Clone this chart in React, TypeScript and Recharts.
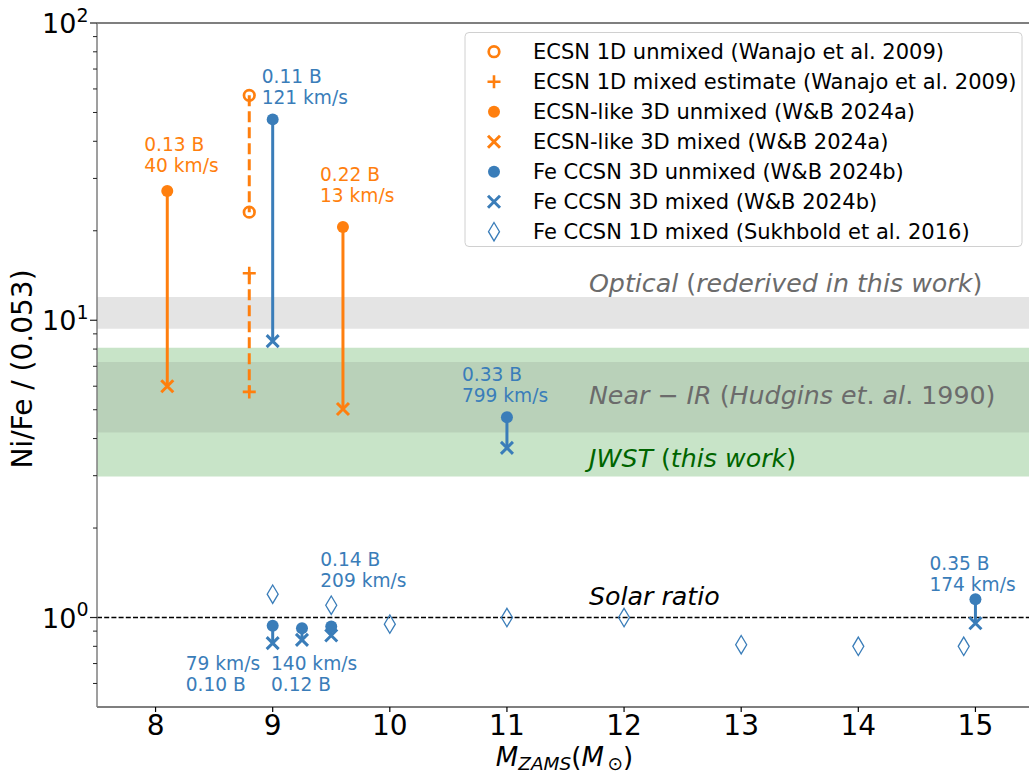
import React from 'react';
import { ComposedChart, XAxis, YAxis, Scatter, ReferenceArea, ReferenceLine } from 'recharts';

const ORANGE = '#ff7f0e';
const BLUE = '#3a7db9';
const FONT = '"DejaVu Sans", sans-serif';

// axis ticks
const massTicks = [8, 9, 10, 11, 12, 13, 14, 15];
const majorRatioTicks = [1, 10, 100];
const minorRatioTicks = [0.6, 0.7, 0.8, 0.9, 2, 3, 4, 5, 6, 7, 8, 9, 20, 30, 40, 50, 60, 70, 80, 90];

// ECSN 1D (Wanajo et al. 2009)
const ecsn1dUnmixed = [{ x: 8.8, y: 57.1 }, { x: 8.8, y: 23.1 }];
const ecsn1dMixed = [{ x: 8.8, y: 14.4 }, { x: 8.8, y: 5.74 }];
// ECSN-like 3D (W&B 2024a)
const ecsn3dUnmixed = [{ x: 8.1, y: 27.2 }, { x: 9.6, y: 20.6 }];
const ecsn3dMixed = [{ x: 8.1, y: 6.0 }, { x: 9.6, y: 5.03 }];
// Fe CCSN 3D (W&B 2024b)
const fe3dUnmixed = [
  { x: 9, y: 47.4 }, { x: 11, y: 4.72 }, { x: 9, y: 0.938 },
  { x: 9.25, y: 0.921 }, { x: 9.5, y: 0.933 }, { x: 15, y: 1.153 },
];
const fe3dMixed = [
  { x: 9, y: 8.51 }, { x: 11, y: 3.72 }, { x: 9, y: 0.82 },
  { x: 9.25, y: 0.841 }, { x: 9.5, y: 0.87 }, { x: 15, y: 0.957 },
];
// Fe CCSN 1D mixed (Sukhbold et al. 2016)
const fe1dMixed = [
  { x: 9, y: 1.198 }, { x: 9.5, y: 1.1 }, { x: 10, y: 0.95 }, { x: 11, y: 1.0 },
  { x: 12, y: 1.0 }, { x: 13, y: 0.81 }, { x: 14, y: 0.8 }, { x: 14.9, y: 0.8 },
];

// observational bands
const opticalBand = [9.36, 11.97];
const jwstBand = [2.98, 8.08];
const nearIrBand = [4.19, 7.24];
const solarRatio = 1;

// annotations (anchored to model points)
const annotations = [
  { x: 8.1, y: 27.2, dx: -23, dy: -40, lines: ['0.13 B', '40 km/s'], color: ORANGE },
  { x: 9, y: 47.4, dx: -11, dy: -36, lines: ['0.11 B', '121 km/s'], color: BLUE },
  { x: 9.6, y: 20.6, dx: -23, dy: -46, lines: ['0.22 B', '13 km/s'], color: ORANGE },
  { x: 11, y: 4.72, dx: -45, dy: -36, lines: ['0.33 B', '799 km/s'], color: BLUE },
  { x: 9.5, y: 0.933, dx: -11, dy: -60, lines: ['0.14 B', '209 km/s'], color: BLUE },
  { x: 9, y: 0.82, dx: -87, dy: 27, lines: ['79 km/s', '0.10 B'], color: BLUE },
  { x: 9.25, y: 0.841, dx: -31, dy: 30, lines: ['140 km/s', '0.12 B'], color: BLUE },
  { x: 15, y: 1.153, dx: -46, dy: -29, lines: ['0.35 B', '174 km/s'], color: BLUE },
];

// band labels (mathtext-like parts: [text, italic])
const bandLabels = [
  { x: 11.7, y: 12.47, color: '#6b6b6b', parts: [['Optical', true], [' (', false], ['rederived in this work', true], [')', false]] },
  { x: 11.7, y: 5.23, color: '#6b6b6b', parts: [['Near', true], [' \u2212 ', false], ['IR', true], [' (', false], ['Hudgins et', true], ['. ', false], ['al', true], ['. 1990)', false]] },
  { x: 11.7, y: 3.22, color: '#006400', parts: [['JWST', true], [' (', false], ['this work', true], [')', false]] },
  { x: 11.7, y: 1.1, color: '#000000', parts: [['Solar ratio', true]] },
];

const legendLabels = [
  'ECSN 1D unmixed (Wanajo et al. 2009)',
  'ECSN 1D mixed estimate (Wanajo et al. 2009)',
  'ECSN-like 3D unmixed (W&B 2024a)',
  'ECSN-like 3D mixed (W&B 2024a)',
  'Fe CCSN 3D unmixed (W&B 2024b)',
  'Fe CCSN 3D mixed (W&B 2024b)',
  'Fe CCSN 1D mixed (Sukhbold et al. 2016)',
];
const legendKinds = ['open', 'plus', 'dot', 'x', 'dot', 'x', 'diamond'];
const legendColors = [ORANGE, ORANGE, ORANGE, ORANGE, BLUE, BLUE, BLUE];

function marker(kind: string, cx: number, cy: number, color: string) {
  switch (kind) {
    case 'open':
      return <circle cx={cx} cy={cy} r={5.3} fill="none" stroke={color} strokeWidth={2.7} />;
    case 'plus':
      return <path d={`M${cx - 6.5},${cy}H${cx + 6.5}M${cx},${cy - 6.5}V${cy + 6.5}`} stroke={color} strokeWidth={2.6} fill="none" />;
    case 'dot':
      return <circle cx={cx} cy={cy} r={6} fill={color} />;
    case 'x':
      return <path d={`M${cx - 6},${cy - 6}L${cx + 6},${cy + 6}M${cx - 6},${cy + 6}L${cx + 6},${cy - 6}`} stroke={color} strokeWidth={3} fill="none" />;
    case 'diamond':
      return <path d={`M${cx},${cy - 9.2}L${cx + 5.5},${cy}L${cx},${cy + 9.2}L${cx - 5.5},${cy}Z`} stroke={color} strokeWidth={1.3} fill="none" />;
    default:
      return null;
  }
}

const shapeOf = (kind: string, color: string) => (p: any) => <g>{marker(kind, p.cx, p.cy, color)}</g>;

const annotationShape = (p: any) => {
  const a = p.payload;
  return (
    <text x={p.cx + a.dx} y={p.cy + a.dy} fill={a.color} fontSize={18.6} fontFamily={FONT}>
      {a.lines.map((l: string, i: number) => (
        <tspan key={i} x={p.cx + a.dx} dy={i === 0 ? 0 : 21}>{l}</tspan>
      ))}
    </text>
  );
};

const bandLabelShape = (p: any) => {
  const b = p.payload;
  return (
    <text x={p.cx} y={p.cy} fill={b.color} fontSize={25.3} fontFamily={FONT}>
      {b.parts.map((part: any, i: number) => (
        <tspan key={i} fontStyle={part[1] ? 'italic' : 'normal'} style={{ whiteSpace: 'pre' }}>{part[0]}</tspan>
      ))}
    </text>
  );
};

const YTick = (p: any) => {
  const v = p.payload.value;
  const major = majorRatioTicks.some((m) => Math.abs(m - v) < 1e-9);
  const x = p.x;
  const y = p.y;
  return (
    <g>
      <line x1={x} x2={x - (major ? 7 : 4)} y1={y} y2={y} stroke="#222" strokeWidth={major ? 1.2 : 1} />
      {major && (
        <text x={x - 8.5} y={y + 10} textAnchor="end" fontSize={27} fontFamily={FONT} fill="#000">
          <tspan>10</tspan>
          <tspan dy={-11.5} fontSize={19}>{String(Math.round(Math.log10(v)))}</tspan>
        </text>
      )}
    </g>
  );
};

const XTick = (p: any) => (
  <g>
    <line x1={p.x} x2={p.x} y1={p.y} y2={p.y + 5} stroke="#000" strokeWidth={1.2} />
    <text x={p.x} y={p.y + 28} textAnchor="middle" fontSize={28} fontFamily={FONT} fill="#000">
      {p.payload.value}
    </text>
  </g>
);

const XLabel = (p: any) => {
  const vb = p.viewBox || { x: 97, width: 937, y: 707 };
  const cx = vb.x + vb.width / 2 - 1;
  return (
    <text x={cx} y={765.5} textAnchor="middle" fontSize={26} fontFamily={FONT} fill="#000">
      <tspan fontStyle="italic">M</tspan>
      <tspan fontStyle="italic" fontSize={18.5} dy={4.5}>ZAMS</tspan>
      <tspan dy={-4.5}>(</tspan>
      <tspan fontStyle="italic">M</tspan>
      <tspan fontSize={18.5} dy={4.5}>{'\u2009\u2299'}</tspan>
      <tspan dy={-4.5}>)</tspan>
    </text>
  );
};

const YLabel = () => (
  <text x={32} y={369} transform="rotate(-90 32 369)" textAnchor="middle" fontSize={28} fontFamily={FONT} fill="#000">
    Ni/Fe / (0.053)
  </text>
);

const segPairs = (a: { x: number; y: number }[], b: { x: number; y: number }[]) => a.map((p, i) => [p, b[i]]);

export default function App() {
  const legendTop = 32.5;
  const legendLeft = 465;
  return (
    <div style={{ position: 'relative', width: 1029, height: 775, overflow: 'hidden', background: '#fff' }}>
      <style>{'html,body{margin:0;padding:0;overflow:hidden;}'}</style>
      <ComposedChart width={1040} height={775} margin={{ top: 23, right: 6, bottom: 0, left: 0 }}>
        <ReferenceArea y1={opticalBand[0]} y2={opticalBand[1]} fill="#e4e4e4" fillOpacity={1} stroke="none" />
        <ReferenceArea y1={jwstBand[0]} y2={jwstBand[1]} fill="#c8e4c8" fillOpacity={1} stroke="none" />
        <ReferenceArea y1={nearIrBand[0]} y2={nearIrBand[1]} fill="#b9d1b9" fillOpacity={1} stroke="none" />
        <XAxis
          dataKey="x"
          type="number"
          domain={[7.5, 15.5]}
          ticks={massTicks}
          interval={0}
          allowDataOverflow
          height={68}
          tickSize={0}
          tickMargin={0}
          tickLine={false}
          tick={(p: any) => <XTick {...p} />}
          axisLine={{ stroke: '#000', strokeWidth: 1.2 }}
          label={<XLabel />}
        />
        <YAxis
          dataKey="y"
          type="number"
          scale="log"
          domain={[0.5, 100]}
          ticks={[...minorRatioTicks, ...majorRatioTicks].sort((a, b) => a - b)}
          interval={0}
          allowDataOverflow
          width={97}
          tickSize={0}
          tickMargin={0}
          tickLine={false}
          tick={(p: any) => <YTick {...p} />}
          axisLine={{ stroke: '#7f7f7f', strokeWidth: 1.5 }}
          label={<YLabel />}
        />
        <ReferenceLine y={100} stroke="#000" strokeWidth={1.2} ifOverflow="visible" />
        <ReferenceLine x={15.5} stroke="#000" strokeWidth={1.2} ifOverflow="visible" />
        <ReferenceLine y={solarRatio} stroke="#000" strokeWidth={1.3} strokeDasharray="5 2.2" />
        <ReferenceLine segment={ecsn1dUnmixed} stroke={ORANGE} strokeWidth={3} strokeDasharray="11 5" ifOverflow="visible" />
        <ReferenceLine segment={ecsn1dMixed} stroke={ORANGE} strokeWidth={3} strokeDasharray="11 5" ifOverflow="visible" />
        {segPairs(ecsn3dUnmixed, ecsn3dMixed).map((s, i) => (
          <ReferenceLine key={'o' + i} segment={s} stroke={ORANGE} strokeWidth={3} ifOverflow="visible" />
        ))}
        {segPairs(fe3dUnmixed, fe3dMixed).map((s, i) => (
          <ReferenceLine key={'b' + i} segment={s} stroke={BLUE} strokeWidth={3} ifOverflow="visible" />
        ))}
        <Scatter data={ecsn1dUnmixed} isAnimationActive={false} shape={shapeOf('open', ORANGE)} />
        <Scatter data={ecsn1dMixed} isAnimationActive={false} shape={shapeOf('plus', ORANGE)} />
        <Scatter data={ecsn3dUnmixed} isAnimationActive={false} shape={shapeOf('dot', ORANGE)} />
        <Scatter data={ecsn3dMixed} isAnimationActive={false} shape={shapeOf('x', ORANGE)} />
        <Scatter data={fe3dUnmixed} isAnimationActive={false} shape={shapeOf('dot', BLUE)} />
        <Scatter data={fe3dMixed} isAnimationActive={false} shape={shapeOf('x', BLUE)} />
        <Scatter data={fe1dMixed} isAnimationActive={false} shape={shapeOf('diamond', BLUE)} />
        <Scatter data={annotations} isAnimationActive={false} shape={annotationShape} />
        <Scatter data={bandLabels} isAnimationActive={false} shape={bandLabelShape} />
      </ComposedChart>
      <svg width={1029} height={775} style={{ position: 'absolute', left: 0, top: 0, pointerEvents: 'none' }}>
        <rect x={legendLeft} y={legendTop} width={557} height={214} rx={4} ry={4} fill="#ffffff" fillOpacity={0.85} stroke="#d0d0d0" strokeWidth={1} />
        {legendLabels.map((l, i) => {
          const cy = 51.7 + 30 * i;
          return (
            <g key={i}>
              {marker(legendKinds[i], 494, cy, legendColors[i])}
              <text x={533} y={cy + 7.5} fontSize={21} fontFamily={FONT} fill="#000">{l}</text>
            </g>
          );
        })}
      </svg>
    </div>
  );
}
